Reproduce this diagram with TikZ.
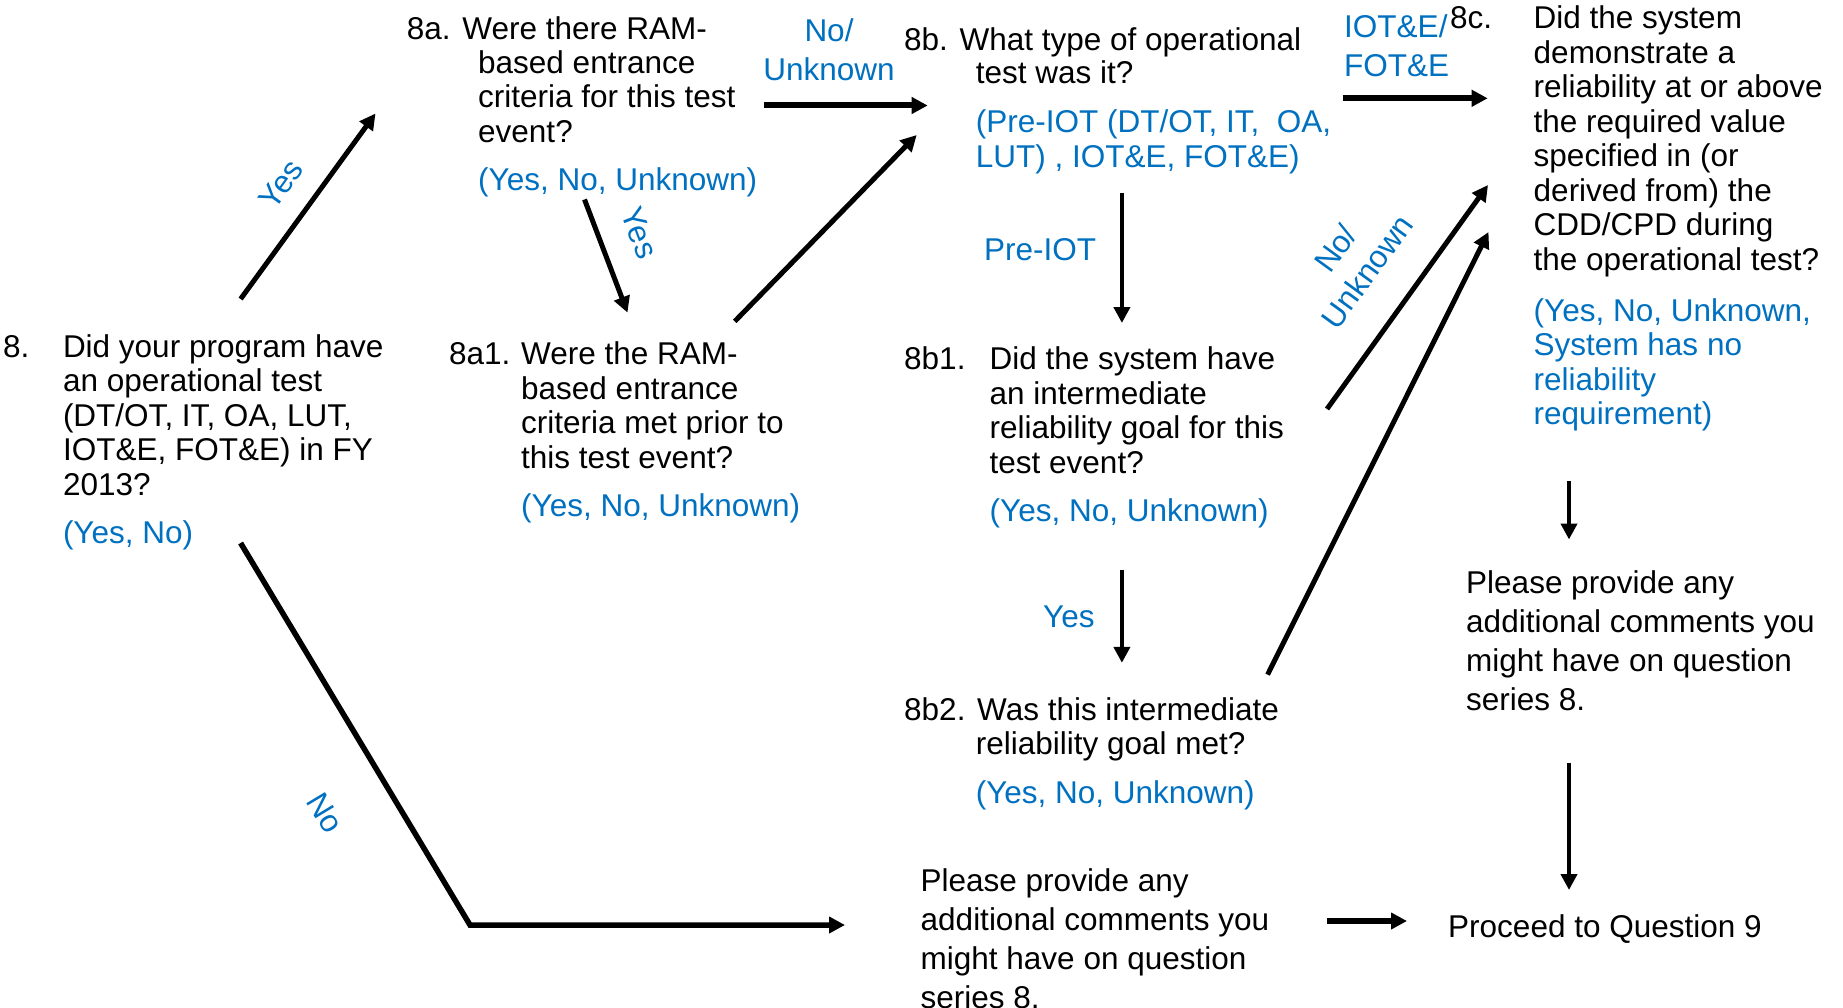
\documentclass[tikz,border=0pt]{standalone}
\usepackage{fontspec}
\setmainfont{Liberation Sans}
\usetikzlibrary{arrows.meta}
\definecolor{qblue}{RGB}{0,112,192}
\newcommand{\qfont}{\fontsize{31.5}{34.5}\selectfont}
\newcommand{\cfont}{\fontsize{31.5}{39}\selectfont}
\newcommand{\qlines}[1]{\begin{tabular}[t]{@{}l@{}}#1\end{tabular}}
\newcommand{\clines}[1]{\begin{tabular}[t]{@{}c@{}}#1\end{tabular}}
\begin{document}
\begin{tikzpicture}[x=1pt,y=-1pt,
  txt/.style={inner sep=0pt, anchor=base west, font=\qfont},
  ctxt/.style={inner sep=0pt, anchor=base west, font=\cfont},
  ans/.style={txt, text=qblue},
  lbl/.style={inner sep=0pt, font=\cfont, text=qblue},
  arr/.style={-{Triangle[length=16pt,width=16pt]}, line width=#1},
  arr/.default=4.6pt]
\useasboundingbox (0,0) rectangle (1843,1008);

% Question 8
\node[txt] (n8num) at (3,357) {8.};
\node[txt] (n8) at (62.8,357) {\qlines{Did your program have\\an operational test\\(DT/OT, IT, OA, LUT,\\IOT\&E, FOT\&E) in FY\\2013?}};
\node[ans] (n8ans) at (62.8,543) {(Yes, No)};

% Question 8a
\node[txt] (n8ahead) at (406.7,39.3) {8a. Were there RAM-};
\node[txt] (n8a) at (478,73.2) {\qlines{based entrance\\criteria for this test\\event?}};
\node[ans] (n8aans) at (478,191) {(Yes, No, Unknown)};

% Question 8a1
\node[txt] (n8a1num) at (449,364.5) {8a1.};
\node[txt] (n8a1) at (521,364.5) {\qlines{Were the RAM-\\based entrance\\criteria met prior to\\this test event?}};
\node[ans] (n8a1ans) at (521,516.5) {(Yes, No, Unknown)};

% Question 8b
\node[txt] (n8bhead) at (904,50.2) {8b. What type of operational};
\node[txt] (n8b) at (975.6,83.3) {test was it?};
\node[ans] (n8bans) at (975.6,132.8) {\qlines{(Pre-IOT (DT/OT, IT,\ \ OA,\\LUT) , IOT\&E, FOT\&E)}};

% Question 8b1
\node[txt] (n8b1num) at (904,369.7) {8b1.};
\node[txt] (n8b1) at (989.5,369.7) {\qlines{Did the system have\\an intermediate\\reliability goal for this\\test event?}};
\node[ans] (n8b1ans) at (989.5,521) {(Yes, No, Unknown)};

% Question 8b2
\node[txt] (n8b2head) at (904,720) {8b2. Was this intermediate};
\node[txt] (n8b2) at (975.6,754) {reliability goal met?};
\node[ans] (n8b2ans) at (975.6,803) {(Yes, No, Unknown)};

% Question 8c
\node[txt] (n8cnum) at (1450,28.7) {8c.};
\node[txt] (n8c) at (1533.5,28.7) {\qlines{Did the system\\demonstrate a\\reliability at or above\\the required value\\specified in (or\\derived from) the\\CDD/CPD during\\the operational test?}};
\node[ans] (n8cans) at (1533.5,321) {\qlines{(Yes, No, Unknown,\\System has no\\reliability\\requirement)}};

% Comments and end
\node[ctxt] (cmt1) at (1466,593) {\qlines{Please provide any\\additional comments you\\might have on question\\series 8.}};
\node[ctxt] (cmt2) at (920.5,891.7) {\qlines{Please provide any\\additional comments you\\might have on question\\series 8.}};
\node[txt] (q9) at (1448,937) {Proceed to Question 9};

% Edge labels
\node[lbl, anchor=base] (l1) at (829,42) {\clines{No/\\Unknown}};
\node[lbl, anchor=base west] (l2) at (1344,37.7) {\qlines{IOT\&E/\\FOT\&E}};
\node[lbl, anchor=base west] (l3) at (984,260) {Pre-IOT};
\node[lbl, anchor=base west] (l4) at (1043,627) {Yes};
\node[lbl, rotate=54] (l5) at (281,184) {Yes};
\node[lbl, rotate=-69] (l6) at (639.5,233) {Yes};
\node[lbl, rotate=54] (l7) at (1354,262) {\clines{No/\\Unknown}};
\node[lbl, rotate=-59] (l8) at (325,813) {No};

% Connector end points
\coordinate (a1s) at (240.6,299);   \coordinate (a1e) at (375.5,113.5);
\coordinate (a2s) at (764,105.5);   \coordinate (a2e) at (927.7,105.5);
\coordinate (a3s) at (584.5,199.5); \coordinate (a3e) at (627.5,312.6);
\coordinate (a4s) at (734.7,321.4); \coordinate (a4e) at (916.7,135);
\coordinate (a5s) at (1342.7,98.3); \coordinate (a5e) at (1487.7,98.3);
\coordinate (a6s) at (1121.9,192.7);\coordinate (a6e) at (1121.9,323);
\coordinate (a7s) at (1327,409);    \coordinate (a7e) at (1488,185);
\coordinate (a8s) at (1121.9,569.8);\coordinate (a8e) at (1121.9,662.8);
\coordinate (a9s) at (1267.6,674.6);\coordinate (a9e) at (1488.5,232);
\coordinate (a10s) at (1569,481);   \coordinate (a10e) at (1569,539.5);
\coordinate (a11s) at (1569,763);   \coordinate (a11e) at (1569,890);
\coordinate (a12s) at (240.6,543);  \coordinate (a12m) at (470,925); \coordinate (a12e) at (845,925);
\coordinate (a13s) at (1327,921);   \coordinate (a13e) at (1407,921);

% Connectors
\draw[arr=5pt] (a1s) -- (a1e);
\draw[arr=6pt] (a2s) -- (a2e);
\draw[arr=5pt] (a3s) -- (a3e);
\draw[arr=5pt] (a4s) -- (a4e);
\draw[arr=6pt] (a5s) -- (a5e);
\draw[arr] (a6s) -- (a6e);
\draw[arr=5pt] (a7s) -- (a7e);
\draw[arr] (a8s) -- (a8e);
\draw[arr=5pt] (a9s) -- (a9e);
\draw[arr] (a10s) -- (a10e);
\draw[arr] (a11s) -- (a11e);
\draw[arr=5.5pt] (a12s) -- (a12m) -- (a12e);
\draw[arr=6pt] (a13s) -- (a13e);
\end{tikzpicture}
\end{document}
